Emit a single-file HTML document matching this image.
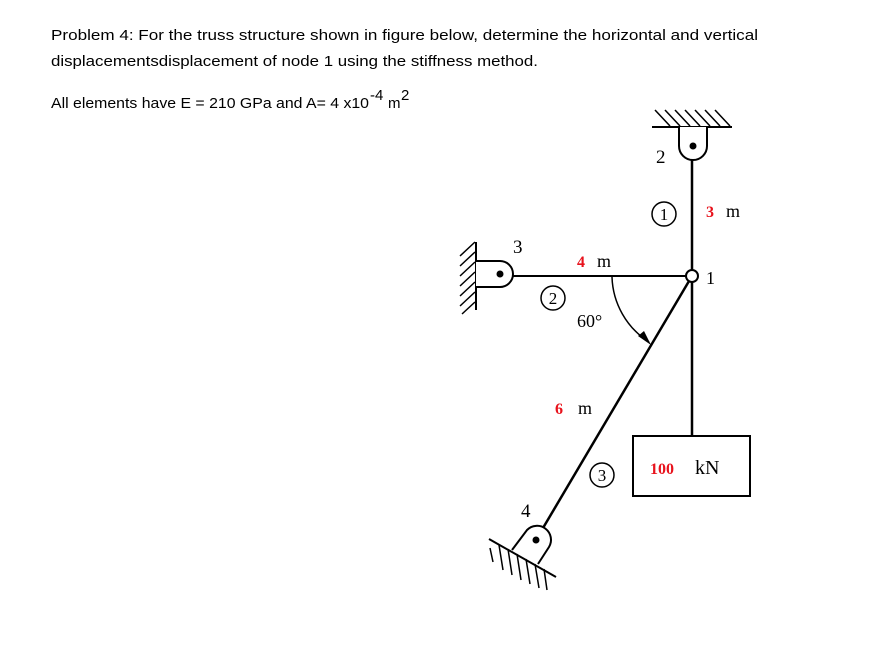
<!DOCTYPE html>
<html><head><meta charset="utf-8"><style>
html,body{margin:0;padding:0;background:#fff;width:871px;height:648px;overflow:hidden}
svg{display:block}
.t{font-family:"Liberation Sans",sans-serif;font-size:15px;fill:#000}
.s{font-family:"Liberation Serif",serif;fill:#000}
.r{font-family:"Liberation Serif",serif;fill:#e8121c;font-weight:bold}
</style></head><body>
<svg width="871" height="648" viewBox="0 0 871 648">
<text class="t" x="51" y="40" textLength="707" lengthAdjust="spacingAndGlyphs">Problem 4: For the truss structure shown in figure below, determine the horizontal and vertical</text>
<text class="t" x="51" y="66" textLength="487" lengthAdjust="spacingAndGlyphs">displacementsdisplacement of node 1 using the stiffness method.</text>
<text class="t" x="51" y="108" textLength="318" lengthAdjust="spacingAndGlyphs">All elements have E = 210 GPa and A= 4 x10</text>
<text class="t" x="370" y="100" font-size="10">-4</text>
<text class="t" x="388" y="108">m</text>
<text class="t" x="401" y="100" font-size="10">2</text>

<g stroke="#000" fill="none">
<line x1="652" y1="127" x2="732" y2="127" stroke-width="2"/>
<g stroke-width="1.5">
<line x1="655" y1="110" x2="670" y2="126"/><line x1="665" y1="110" x2="680" y2="126"/>
<line x1="675" y1="110" x2="690" y2="126"/><line x1="685" y1="110" x2="700" y2="126"/>
<line x1="695" y1="110" x2="710" y2="126"/><line x1="705" y1="110" x2="720" y2="126"/>
<line x1="715" y1="110" x2="730" y2="126"/>
</g>
<path d="M679 127 V146 A14 14 0 0 0 707 146 V127" stroke-width="2" fill="#fff"/>
<line x1="476" y1="242" x2="476" y2="310" stroke-width="2"/>
<g stroke-width="1.5">
<line x1="460" y1="256" x2="475" y2="242"/><line x1="460" y1="266" x2="475" y2="252"/>
<line x1="460" y1="276" x2="475" y2="262"/><line x1="460" y1="286" x2="475" y2="272"/>
<line x1="460" y1="296" x2="475" y2="282"/><line x1="460" y1="306" x2="475" y2="292"/>
<line x1="462" y1="314" x2="475" y2="302"/>
</g>
<path d="M476 261 H500 A13 13 0 0 1 500 287 H476" stroke-width="2" fill="#fff"/>
<line x1="489" y1="539" x2="556" y2="577" stroke-width="2"/>
<g stroke-width="1.5">
<line x1="490" y1="548" x2="493" y2="562"/><line x1="499" y1="545" x2="503" y2="570"/>
<line x1="508" y1="549" x2="512" y2="575"/><line x1="517" y1="554" x2="521" y2="580"/>
<line x1="526" y1="559" x2="530" y2="584"/><line x1="535" y1="564" x2="539" y2="588"/>
<line x1="544" y1="569" x2="547" y2="590"/>
</g>
<path d="M512 550 L527 530 A14 14 0 0 1 549 547 L538 564" stroke-width="2" fill="#fff"/>
<line x1="692" y1="160" x2="692" y2="436" stroke-width="2.5"/>
<line x1="513" y1="276" x2="692" y2="276" stroke-width="2"/>
<line x1="692" y1="276" x2="543" y2="528" stroke-width="2.5"/>
<rect x="633" y="436" width="117" height="60" stroke-width="2" fill="#fff"/>
<path d="M612 277 A80 80 0 0 0 649 342" stroke-width="1.5"/>
<circle cx="664" cy="214" r="12" stroke-width="1.5"/>
<circle cx="553" cy="298" r="12" stroke-width="1.5"/>
<circle cx="602" cy="475" r="12" stroke-width="1.5"/>
<circle cx="692" cy="276" r="6" stroke-width="2" fill="#fff"/>
</g>
<polygon points="651,345 638,336 644,331" fill="#000"/>
<circle cx="693" cy="146" r="3.5" fill="#000"/>
<circle cx="500" cy="274" r="3.5" fill="#000"/>
<circle cx="536" cy="540" r="3.5" fill="#000"/>

<text class="s" x="656" y="163" font-size="19">2</text>
<text class="s" x="664" y="220" font-size="17" text-anchor="middle">1</text>
<text class="s" x="553" y="304" font-size="17" text-anchor="middle">2</text>
<text class="s" x="602" y="481" font-size="17" text-anchor="middle">3</text>
<text class="r" x="706" y="217" font-size="16">3</text>
<text class="s" x="726" y="217" font-size="18">m</text>
<text class="s" x="513" y="253" font-size="19">3</text>
<text class="r" x="577" y="267" font-size="16">4</text>
<text class="s" x="597" y="267" font-size="18">m</text>
<text class="s" x="706" y="284" font-size="18">1</text>
<text class="s" x="577" y="327" font-size="18">60°</text>
<text class="r" x="555" y="414" font-size="16">6</text>
<text class="s" x="578" y="414" font-size="18">m</text>
<text class="s" x="521" y="517" font-size="19">4</text>
<text class="r" x="650" y="474" font-size="16">100</text>
<text class="s" x="695" y="474" font-size="20">kN</text>
</svg>
</body></html>
